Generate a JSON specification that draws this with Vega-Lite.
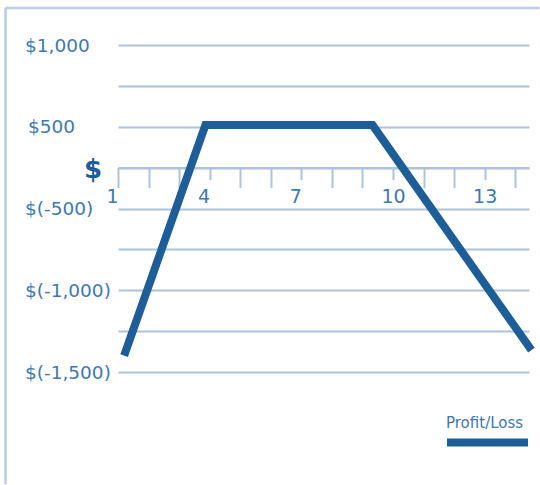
{
  "$schema": "https://vega.github.io/schema/vega-lite/v6.json",
  "width": 411,
  "height": 327,
  "padding": {"left": 4, "top": 6, "right": 0, "bottom": 0},
  "config": {"view": {"stroke": null}, "font": "DejaVu Sans"},
  "layer": [
    {
      "data": {"values": [{"part": "left"}]},
      "mark": {"type": "rule", "color": "#b9cce4", "strokeWidth": 2.5},
      "encoding": {
        "x": {"datum": -2.68, "type": "quantitative", "scale": {"domain": [1, 14.45], "nice": false, "zero": false}},
        "y": {"datum": 1226, "type": "quantitative", "scale": {"domain": [-1000, 1000], "nice": false, "zero": false}},
        "y2": {"datum": -1685}
      }
    },
    {
      "data": {"values": [{"part": "top"}]},
      "mark": {"type": "rule", "color": "#b9cce4", "strokeWidth": 2.5},
      "encoding": {
        "x": {"datum": -2.68, "type": "quantitative", "scale": {"domain": [1, 14.45], "nice": false, "zero": false}},
        "x2": {"datum": 14.8},
        "y": {"datum": 1226, "type": "quantitative", "scale": {"domain": [-1000, 1000], "nice": false, "zero": false}}
      }
    },
    {
      "data": {"values": [
        {"day": 1.2, "pl": -900, "series": "Profit/Loss"},
        {"day": 3.86, "pl": 510, "series": "Profit/Loss"},
        {"day": 9.33, "pl": 510, "series": "Profit/Loss"},
        {"day": 14.53, "pl": -866, "series": "Profit/Loss"}
      ]},
      "mark": {"type": "line", "strokeWidth": 8, "strokeCap": "butt", "strokeJoin": "miter"},
      "encoding": {
        "x": {
          "field": "day", "type": "quantitative",
          "scale": {"domain": [1, 14.45], "nice": false, "zero": false},
          "axis": {
            "title": null,
            "orient": "bottom",
            "offset": -204.4,
            "values": [1, 2, 3, 4, 5, 6, 7, 8, 9, 10, 11, 12, 13, 14],
            "tickCount": 30,
            "format": "d",
            "grid": false,
            "domainColor": "#adc2dc",
            "domainWidth": 2,
            "tickColor": "#adc2dc",
            "tickWidth": 2,
            "tickSize": {"condition": {"test": "datum.value > 1 && (datum.value - 1) % 3 == 0", "value": 12}, "value": 20},
            "labelExpr": "(datum.value - 1) % 3 == 0 ? datum.label : ''",
            "labelAlign": {"condition": {"test": "datum.value < 10", "value": "right"}, "value": "center"},
            "labelFontSize": 19,
            "labelColor": "#4078b0",
            "labelPadding": {"condition": {"test": "datum.value > 1 && (datum.value - 1) % 3 == 0", "value": 8}, "value": 0},
            "labelFlush": false,
            "labelOverlap": false
          }
        },
        "y": {
          "field": "pl", "type": "quantitative",
          "scale": {"domain": [-1000, 1000], "nice": false, "zero": false},
          "axis": {
            "title": null,
            "values": [-1000, -750, -500, -250, 0, 250, 500, 750, 1000],
            "tickCount": 30,
            "domain": false,
            "ticks": false,
            "tickSize": 0,
            "grid": true,
            "gridColor": "#adc2dc",
            "gridWidth": 2,
            "labelExpr": "datum.value == 1000 ? '$1,000' : datum.value == 500 ? '$500' : datum.value == 250 ? '$' : datum.value == 0 ? '$(-500)' : datum.value == -500 ? '$(-1,000)' : datum.value == -1000 ? '$(-1,500)' : ''",
            "labelAlign": {"condition": {"test": "datum.value == 250", "value": "center"}, "value": "left"},
            "labelPadding": {"condition": [{"test": "datum.value == 250", "value": 25.5}, {"test": "datum.value == 500", "value": 90.5}], "value": 93.5},
            "labelFontSize": {"condition": {"test": "datum.value == 250", "value": 26}, "value": 18.5},
            "labelFontWeight": {"condition": {"test": "datum.value == 250", "value": "bold"}, "value": "normal"},
            "labelColor": {"condition": {"test": "datum.value == 250", "value": "#1d5d98"}, "value": "#4078b0"},
            "labelOffset": {"condition": {"test": "datum.value == 250", "value": 2}, "value": 0},
            "labelBaseline": "middle",
            "labelFlush": false,
            "labelOverlap": false
          }
        },
        "color": {
          "field": "series", "type": "nominal",
          "scale": {"range": ["#1d5d98"]},
          "legend": {
            "title": "Profit/Loss",
            "orient": "none",
            "legendX": 328,
            "legendY": 371,
            "padding": 0,
            "titleFontSize": 15,
            "titleFontWeight": "normal",
            "titleColor": "#4078b0",
            "titlePadding": -33,
            "symbolType": "stroke",
            "symbolSize": 6561,
            "symbolStrokeWidth": 8,
            "symbolOffset": -3,
            "labelExpr": "''",
            "labelFontSize": 1
          }
        }
      }
    }
  ]
}
